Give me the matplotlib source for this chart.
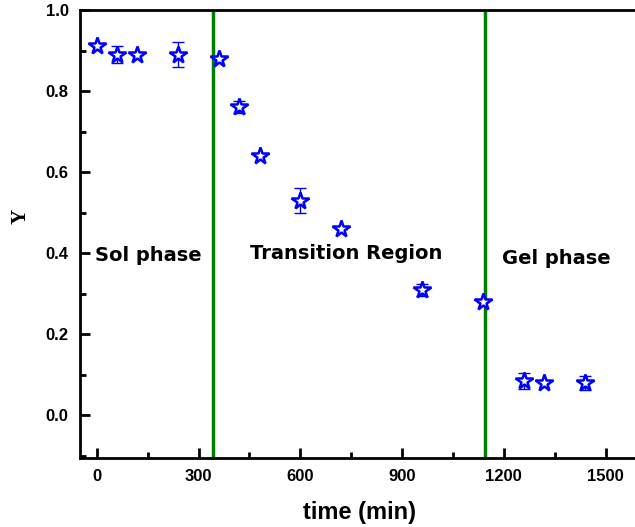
import matplotlib.pyplot as plt
from matplotlib.ticker import MultipleLocator

# Gelation kinetics: Y versus time
time_min = [0, 60, 120, 240, 360, 420, 480, 600, 720, 960, 1140, 1260, 1320, 1440]
y_val = [0.91, 0.89, 0.89, 0.89, 0.88, 0.76, 0.64, 0.53, 0.46, 0.31, 0.28, 0.085, 0.08, 0.08]
y_err = [0.0, 0.02, 0.0, 0.03, 0.0, 0.015, 0.0, 0.03, 0.0, 0.015, 0.0, 0.02, 0.0, 0.018]

# phase boundaries
boundaries = [342, 1144]
region_labels = ["Sol phase", "Transition Region", "Gel phase"]
label_x = [-5, 452, 1196]
label_y = [0.395, 0.4, 0.388]

fig = plt.figure(figsize=(6.35, 5.27), dpi=100)
ax = fig.add_axes([0.1257, 0.131, 0.8813, 0.85])

ax.errorbar(time_min, y_val, yerr=y_err, fmt="none", ecolor="blue",
            elinewidth=1, capsize=4, capthick=1, zorder=2)
ax.plot(time_min, y_val, linestyle="none", marker="*", markersize=13,
        markerfacecolor="white", markeredgecolor="blue", markeredgewidth=1.8, zorder=3)

for b in boundaries:
    ax.axvline(b, color="#008000", linewidth=2.5, zorder=1)

for txt, lx, ly in zip(region_labels, label_x, label_y):
    ax.text(lx, ly, txt, fontsize=14, fontweight="bold", family="DejaVu Sans",
            ha="left", va="center")

ax.set_xlim(-50, 1600)
ax.set_ylim(-0.105, 1.0)
ax.xaxis.set_major_locator(MultipleLocator(300))
ax.xaxis.set_minor_locator(MultipleLocator(150))
ax.yaxis.set_major_locator(MultipleLocator(0.2))
ax.yaxis.set_minor_locator(MultipleLocator(0.1))
ax.tick_params(which="major", direction="in", length=7, width=2,
               labelsize=12, pad=8)
ax.tick_params(which="minor", direction="in", length=4, width=2)
ax.tick_params(top=False, right=False, which="both")
for lbl in ax.get_xticklabels() + ax.get_yticklabels():
    lbl.set_fontweight("bold")
    lbl.set_family("Liberation Sans")

for sp in ax.spines.values():
    sp.set_linewidth(2)

ax.set_xlabel("time (min)", fontsize=17, fontweight="bold",
              family="Liberation Sans", labelpad=12)
ax.set_ylabel("Y", fontsize=15, fontweight="bold", family="Liberation Serif")
ax.yaxis.set_label_coords(-0.088, 0.54)

fig.savefig("out.png", dpi=100)
